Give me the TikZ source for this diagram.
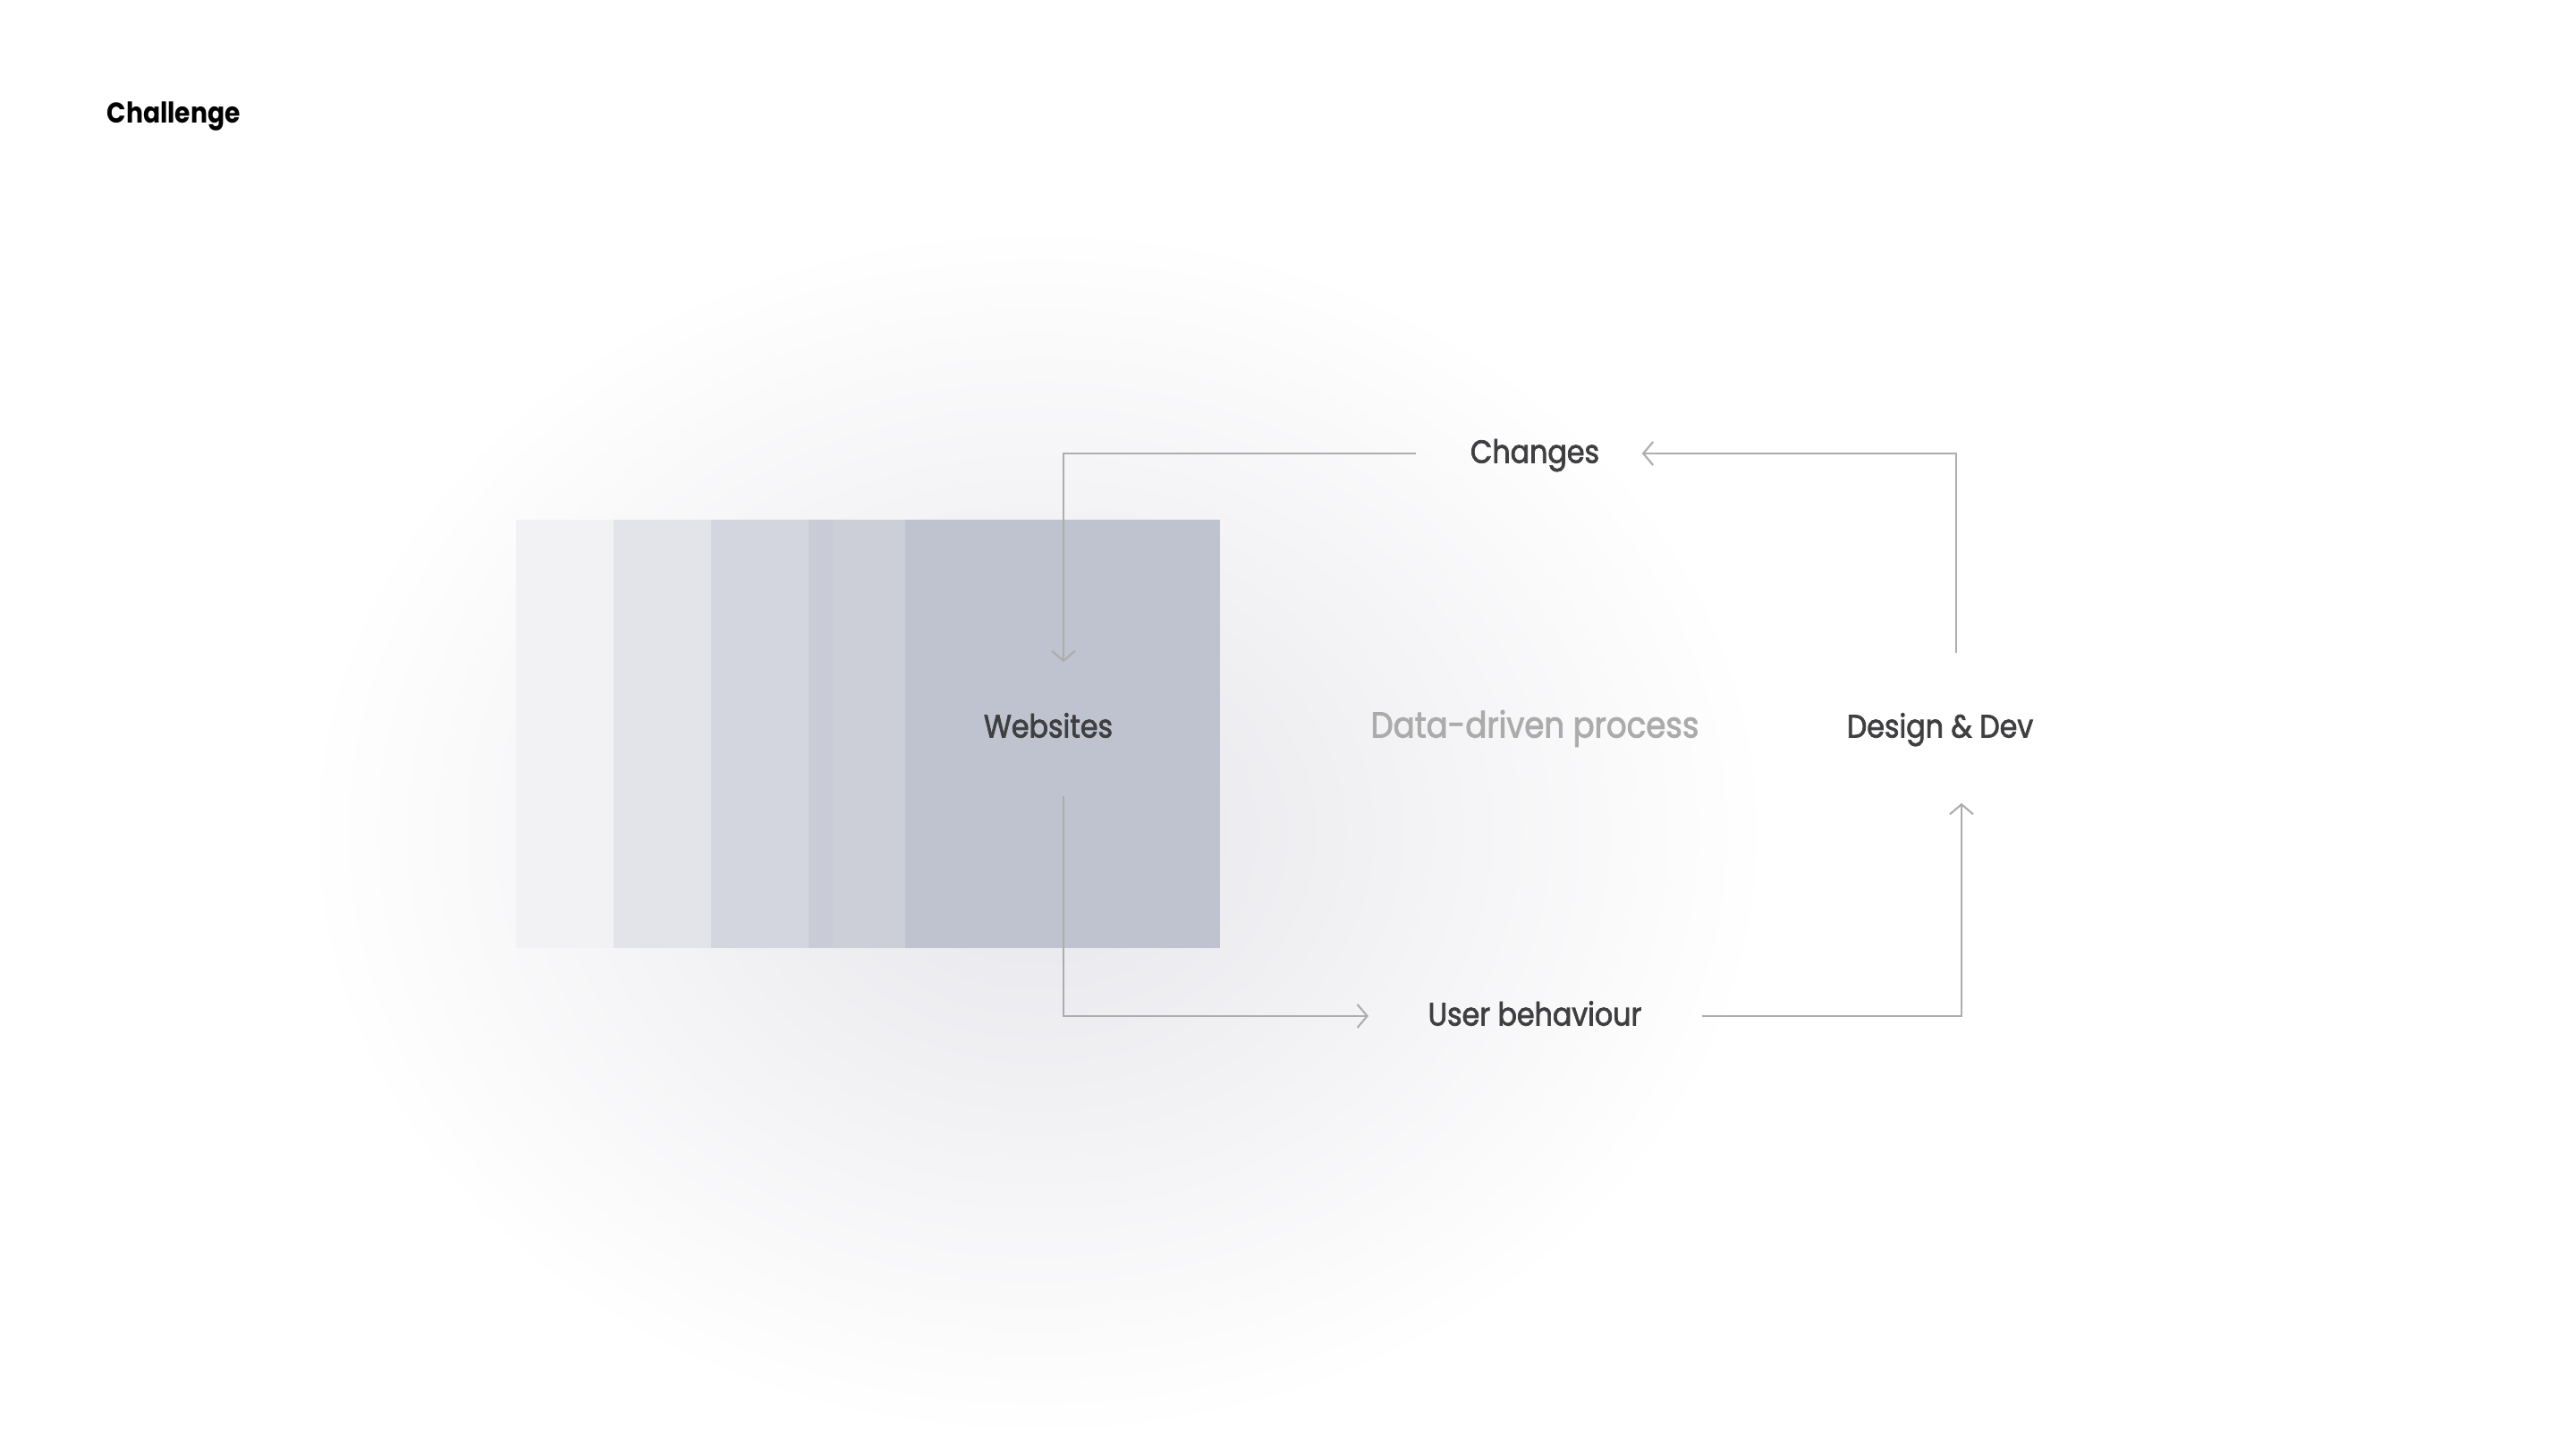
\documentclass[tikz,border=0pt]{standalone}
\usepackage{fontspec}
\setmainfont{Poppins}
\newfontfamily\labelfont{Poppins}[FakeStretch=0.88,FakeBold=2]
\newfontfamily\titlefont{Poppins}[FakeStretch=0.88]
\usetikzlibrary{positioning,arrows.meta}

\definecolor{glow}{HTML}{E6E6EB}
\definecolor{stripa}{HTML}{F2F2F5}
\definecolor{stripb}{HTML}{E3E4E9}
\definecolor{stripc}{HTML}{D4D6DF}
\definecolor{stripd}{HTML}{C9CBD6}
\definecolor{stripdd}{HTML}{CCCED8}
\definecolor{stripe}{HTML}{BFC2CF}
\definecolor{linegray}{HTML}{ADADAD}
\definecolor{labelgray}{HTML}{3F3F41}
\definecolor{fadegray}{HTML}{ABABAB}

\begin{document}
\begin{tikzpicture}[-,>={Straight Barb[length=1.1mm,width=2.6mm]},node distance=2cm,
    flow/.style={->,draw=linegray,line width=0.6pt},
    main node/.style={inner sep=0pt,text height=1.6ex,text depth=0.5ex,text=labelgray,font=\labelfont\fontsize{10.25}{12}\selectfont}]
    \useasboundingbox (0,0) rectangle (28.8,16.2);
    \fill[white] (0,0) rectangle (28.8,16.2);
    \shade[inner color=glow,outer color=white] (11.6,6.9) ellipse (8.2 and 6.8);

    % stacked pages
    \fill[stripa] (5.77,5.60) rectangle (6.86,10.39);
    \fill[stripb] (6.86,5.60) rectangle (7.95,10.39);
    \fill[stripc] (7.95,5.60) rectangle (9.04,10.39);
    \fill[stripd] (9.04,5.60) rectangle (9.31,10.39);
    \fill[stripdd] (9.31,5.60) rectangle (10.12,10.39);
    \fill[stripe] (10.12,5.60) rectangle (13.64,10.39);

    \node[anchor=base west,inner sep=0pt,text=black,font=\titlefont\bfseries\fontsize{9.1}{11}\selectfont] (title) at (1.19,14.82) {Challenge};

    \node[main node,text=fadegray,font=\labelfont\fontsize{11.5}{14}\selectfont] (dp) at (17.16,8.06) {Data-driven process};
    \node[main node] (web) [left of = dp, node distance=5.44cm] {Websites};
    \node[main node] (dd) [right of = dp, node distance=4.53cm] {Design \& Dev};
    \node[main node] (chg) [above of = dp, node distance=3.07cm] {Changes};
    \node[main node] (ub) [below of = dp, node distance=3.22cm] {User behaviour};

    \draw[flow,shorten <=0.6cm,shorten >=0.53cm] (chg.west) -| ([xshift=1.7mm]web.north);
    \draw[flow,shorten <=0.63cm,shorten >=0.47cm] ([xshift=1.8mm]dd.north) |- (chg.east);
    \draw[flow,shorten <=0.55cm,shorten >=0.66cm] ([xshift=1.7mm]web.south) |- (ub.west);
    \draw[flow,shorten <=0.67cm,shorten >=0.63cm] (ub.east) -| ([xshift=2.4mm]dd.south);
\end{tikzpicture}
\end{document}
